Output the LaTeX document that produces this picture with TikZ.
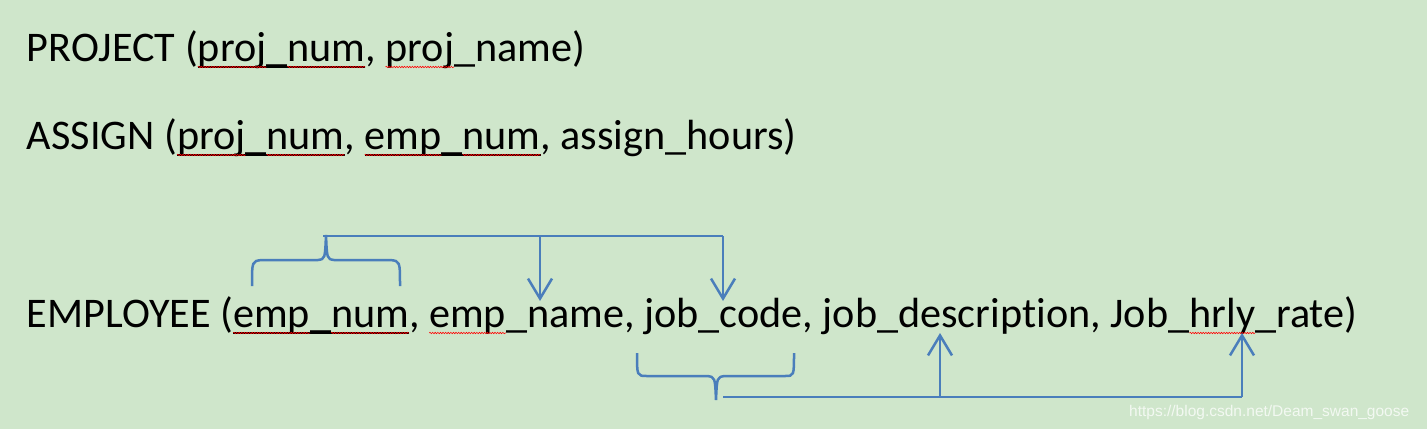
\documentclass[tikz,border=0pt]{standalone}
\usepackage{fontspec}
\setmainfont{Carlito}[Ligatures=NoCommon]
\newfontfamily\wmfont{Liberation Sans}
\usetikzlibrary{arrows.meta,decorations.pathmorphing}
\definecolor{bg}{HTML}{CFE6CB}
\definecolor{lnblue}{HTML}{4A7EBB}
\tikzset{
  txt/.style={inner sep=0pt,outer sep=0pt,anchor=base west,font=\fontsize{42.2}{50}\selectfont},
  uline/.style={line width=2pt,black},
  spell/.style={red,line width=0.6pt,decorate,decoration={snake,amplitude=0.7pt,segment length=2.6pt}},
  conn/.style={lnblue,line width=2.5pt},
  arr/.style={conn,-{Straight Barb[length=20pt,width=24pt,line width=2.5pt]}}
}
\begin{document}
\begin{tikzpicture}[x=1pt,y=-1pt]
\fill[bg] (0,0) rectangle (1427,429);
\useasboundingbox (0,0) rectangle (1427,429);
% line 1
\node[txt] (a1) at (27,61) {PROJECT (};
\node[txt] (a2) at (a1.base east) {proj};
\node[txt] (a3) at (a2.base east) {\_};
\node[txt] (a4) at (a3.base east) {num};
\node[txt] (a5) at (a4.base east) {,\mbox{\ }};
\node[txt] (a6) at (a5.base east) {proj};
\node[txt] (a7) at (a6.base east) {\_name)};
\draw[uline] ([yshift=-6pt]a2.base west) -- ([yshift=-6pt]a4.base east);
\foreach \n in {a2,a4,a6} \draw[spell] ([yshift=-6pt]\n.base west) -- ([yshift=-6pt]\n.base east);
% line 2
\node[txt] (b1) at (27,149) {ASSIGN (};
\node[txt] (b2) at (b1.base east) {proj};
\node[txt] (b3) at (b2.base east) {\_};
\node[txt] (b4) at (b3.base east) {num};
\node[txt] (b5) at (b4.base east) {,\mbox{\ }};
\node[txt] (b6) at (b5.base east) {emp};
\node[txt] (b7) at (b6.base east) {\_};
\node[txt] (b8) at (b7.base east) {num};
\node[txt] (b9) at (b8.base east) {, assign\_hours)};
\draw[uline] ([yshift=-6pt]b2.base west) -- ([yshift=-6pt]b4.base east);
\draw[uline] ([yshift=-6pt]b6.base west) -- ([yshift=-6pt]b8.base east);
\foreach \n in {b2,b4,b6,b8} \draw[spell] ([yshift=-6pt]\n.base west) -- ([yshift=-6pt]\n.base east);
% line 3
\node[txt] (c1) at (27,327) {EMPLOYEE (};
\node[txt] (c2) at (c1.base east) {emp};
\node[txt] (c3) at (c2.base east) {\_};
\node[txt] (c4) at (c3.base east) {num};
\node[txt] (c5) at (c4.base east) {,\mbox{\ }};
\node[txt] (c6) at (c5.base east) {emp};
\node[txt] (c7) at (c6.base east) {\_name, job\_code, job\_description, Job\_};
\node[txt] (c8) at (c7.base east) {hrly};
\node[txt] (c9) at (c8.base east) {\_rate)};
\draw[uline] ([yshift=-6pt]c2.base west) -- ([yshift=-6pt]c4.base east);
\foreach \n in {c2,c4,c6,c8} \draw[spell] ([yshift=-6pt]\n.base west) -- ([yshift=-6pt]\n.base east);
% top brace and arrows
\coordinate (tb) at (326,235);
\coordinate (tr) at (723,236);
\coordinate (t1) at (540,236);
\coordinate (e1) at (540,301);
\coordinate (e2) at (723,301);
\draw[conn] (252,286) .. controls (252,261) .. (262,260) -- (318,260) .. controls (325,259) .. (tb)
  .. controls (327,259) .. (334,260) -- (390,260) .. controls (400,261) .. (400,286);
\draw[conn] (323,236) -- (tr);
\draw[arr] (t1) -- (e1);
\draw[arr] (tr) -- (e2);
% bottom brace and arrows
\coordinate (bb) at (716,400);
\coordinate (bl) at (723,397);
\coordinate (br) at (1242,397);
\coordinate (b1s) at (940,397);
\coordinate (u1) at (940,333);
\coordinate (u2) at (1242,333);
\draw[conn] (637,353) .. controls (637,376) .. (647,376) -- (707,376) .. controls (715,377) .. (bb)
  .. controls (717,377) .. (725,376) -- (785,376) .. controls (794,376) .. (794,353);
\draw[conn] (bl) -- (br);
\draw[arr] (b1s) -- (u1);
\draw[arr] (br) -- (u2);
% watermark
\node[inner sep=0pt,anchor=base west,font=\wmfont\fontsize{15.5}{18}\selectfont,text=white,opacity=0.75] (wm) at (1129,416) {https://blog.csdn.net/Deam\_swan\_goose};
\end{tikzpicture}
\end{document}
